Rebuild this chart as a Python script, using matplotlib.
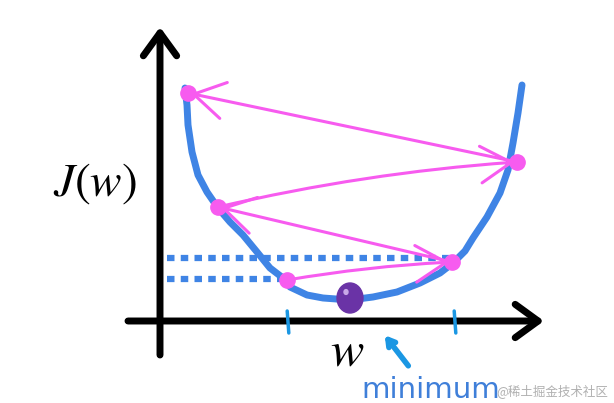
import matplotlib.pyplot as plt
from matplotlib.patches import Ellipse, FancyArrowPatch

plt.rcParams["mathtext.fontset"] = "stix"

# cost curve J(w), hand-drawn sketch (w, J)
curve_w = [0.625, 0.675, 0.7, 0.8, 0.95, 1.175, 1.45, 1.75, 2.075, 2.425,
           2.75, 3.075, 3.25, 3.675, 4.075, 4.75, 5.325, 5.925, 6.5, 7.0,
           7.325, 7.625, 7.825, 8.175, 8.5, 8.7, 8.825, 8.95, 9.05]
curve_J = [5.825, 5.4, 4.9, 4.225, 3.65, 3.225, 2.825, 2.475, 2.15, 1.725,
           1.325, 1.075, 0.85, 0.65, 0.575, 0.525, 0.6, 0.725, 0.95, 1.2,
           1.45, 1.75, 2.075, 2.6, 3.2, 3.775, 4.45, 5.2, 5.9]

# gradient descent steps (learning rate too large -> diverging)
step_w = [3.175, 7.3, 1.45, 8.925, 0.7]
step_J = [1.025, 1.475, 2.85, 3.975, 5.7]
step_rad = [-0.03, 0.0, -0.04, 0.0]

min_w, min_J = 4.75, 0.575
tick_w = [3.2, 7.375]
level_J = [1.575, 1.05]
level_end_w = [7.25, 3.125]

BLUE = "#3f84e5"
MAGENTA = "#f75bef"
TICK = "#1b97e3"

fig = plt.figure(figsize=(6.14, 4.03), dpi=100)
ax = fig.add_axes([0, 0, 1, 1])
ax.set_xlim(-4, 11.35)
ax.set_ylim(-2.05, 8.025)
ax.axis("off")

# axes with open arrowheads
axis_head = "->,head_length=1.65,head_width=1.2"
ax.annotate("", xy=(0, 7.35), xytext=(0, -0.85),
            arrowprops=dict(arrowstyle=axis_head, lw=5, color="black",
                            capstyle="round", joinstyle="round",
                            shrinkA=0, shrinkB=0))
ax.annotate("", xy=(9.6, 0), xytext=(-0.8, 0),
            arrowprops=dict(arrowstyle=axis_head, lw=5, color="black",
                            capstyle="round", joinstyle="round",
                            shrinkA=0, shrinkB=0))

# dotted level lines
for lj, lw_end in zip(level_J, level_end_w):
    ax.plot([0.175, lw_end], [lj, lj], color=BLUE, lw=4.5,
            linestyle=(0, (1.2, 1.0)), solid_capstyle="butt", zorder=2)

# curve
ax.plot(curve_w, curve_J, color=BLUE, lw=5, solid_joinstyle="round",
        solid_capstyle="round", zorder=3)

# ticks on w axis
for tw in tick_w:
    ax.plot([tw - 0.02, tw + 0.02], [0.25, -0.3], color=TICK, lw=2.5,
            solid_capstyle="round", zorder=3)

# step arrows
for i in range(len(step_w) - 1):
    arr = FancyArrowPatch((step_w[i], step_J[i]), (step_w[i + 1], step_J[i + 1]),
                          arrowstyle="->,head_length=10,head_width=6",
                          connectionstyle=f"arc3,rad={step_rad[i]}",
                          color=MAGENTA, lw=2.2, shrinkA=0, shrinkB=2,
                          mutation_scale=2.2, capstyle="round", zorder=4)
    ax.add_patch(arr)
ax.plot(step_w, step_J, "o", color=MAGENTA, ms=11, ls="none", zorder=5)

# minimum ball
ax.add_patch(Ellipse((min_w, min_J), 0.65, 0.75, color="#6a33a6", zorder=6))
ax.add_patch(Ellipse((min_w - 0.1, min_J + 0.15), 0.1, 0.12,
                     color="#c9a8e8", zorder=7))

# labels
ax.text(-1.625, 3.45, "$J(w)$", fontsize=34, ha="center", va="center")
ax.text(4.675, -0.75, "$w$", fontsize=36, ha="center", va="center")
ax.annotate("", xy=(5.575, -0.3), xytext=(6.25, -1.175),
            arrowprops=dict(arrowstyle="->,head_length=0.5,head_width=0.3",
                            lw=4, color=TICK))
ax.text(6.775, -1.72, "minimum", fontsize=21, color="#3f7fd9",
        ha="center", va="center")
ax.text(11.2, -1.75, "@稀土掘金技术社区", fontsize=9, color="#b0b0b0",
        ha="right", va="center", family=["Noto Sans CJK SC", "DejaVu Sans"])

fig.savefig("out.png", dpi=100)
